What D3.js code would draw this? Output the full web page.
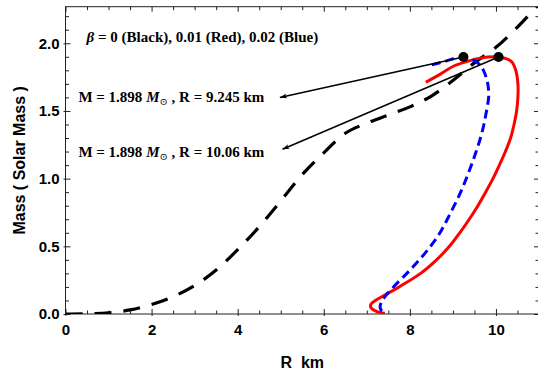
<!DOCTYPE html>
<html>
<head>
<meta charset="utf-8">
<script src="https://cdn.jsdelivr.net/npm/d3@7"></script>
<style>
  body { margin: 0; background: white; }
  svg { display: block; }
</style>
</head>
<body>
<div id="chart"></div>
<script>
// tick values
const xTicks = [0, 2, 4, 6, 8, 10];
const yTicks = [0, 0.5, 1.0, 1.5, 2.0];

// beta = 0 (black dashed)
const blackR = [0, 0.5, 1.0, 1.5, 2.0, 2.5, 3.0, 3.5, 4.0, 4.5, 5.0, 5.5, 6.0, 6.5, 7.0, 7.5, 8.0, 8.5, 9.0, 9.5, 10.0, 10.5, 11.0];
const blackM = [0, 0.001, 0.008, 0.03, 0.07, 0.128, 0.21, 0.325, 0.475, 0.645, 0.835, 1.03, 1.19, 1.335, 1.41, 1.47, 1.53, 1.61, 1.725, 1.855, 1.97, 2.12, 2.29];

// beta = 0.01 (red solid)
const redR = [8.37, 8.7, 9.01, 9.33, 9.63, 10.06, 10.36, 10.46, 10.51, 10.51, 10.48, 10.42, 10.34, 10.22, 10.08, 9.93, 9.76, 9.58, 9.38, 9.16, 8.92, 8.62, 8.25, 7.75, 7.42, 7.2, 7.09, 7.1, 7.22, 7.42];
const redM = [1.712, 1.77, 1.83, 1.865, 1.89, 1.898, 1.865, 1.8, 1.7, 1.6, 1.5, 1.4, 1.3, 1.2, 1.1, 1.0, 0.9, 0.8, 0.7, 0.6, 0.5, 0.4, 0.3, 0.2, 0.14, 0.1, 0.07, 0.045, 0.02, 0.005];

// beta = 0.02 (blue dashed)
const blueR = [8.51, 8.8, 9.01, 9.245, 9.47, 9.63, 9.71, 9.78, 9.82, 9.83, 9.78, 9.72, 9.64, 9.54, 9.43, 9.31, 9.18, 9.03, 8.87, 8.7, 8.48, 8.22, 7.93, 7.62, 7.45, 7.36, 7.31, 7.33, 7.42];
const blueM = [1.84, 1.865, 1.885, 1.898, 1.877, 1.84, 1.8, 1.74, 1.68, 1.6, 1.5, 1.4, 1.3, 1.2, 1.1, 1.0, 0.9, 0.8, 0.7, 0.6, 0.5, 0.4, 0.3, 0.2, 0.14, 0.1, 0.06, 0.03, 0.01];

// maximum-mass points and where their arrows point
const dotR = [9.245, 10.06];
const dotM = [1.898, 1.898];
const arrowTipR = [4.98, 5.04];
const arrowTipM = [1.6, 1.217];
const dotRadius = ["9.245", "10.06"];

const width = 538, height = 371;
const svg = d3.select("#chart").append("svg")
  .attr("width", width)
  .attr("height", height);

const x = d3.scaleLinear().domain([0, 11]).range([65.5, 539]);
const y = d3.scaleLinear().domain([0, 2.27]).range([314, 6.7]);

const defs = svg.append("defs");
defs.append("clipPath").attr("id", "clip")
  .append("rect")
  .attr("x", x(0)).attr("y", y(2.27))
  .attr("width", x(11) - x(0)).attr("height", y(0) - y(2.27));

defs.append("marker")
  .attr("id", "arrow")
  .attr("viewBox", "0 0 10 10")
  .attr("refX", 10).attr("refY", 5)
  .attr("markerWidth", 7).attr("markerHeight", 7)
  .attr("markerUnits", "userSpaceOnUse")
  .attr("orient", "auto")
  .append("path")
  .attr("d", "M0,1.5 L10,5 L0,8.5 L2.5,5 Z")
  .attr("fill", "black");

// minor ticks
const minorX = d3.range(0, 11.01, 0.5).filter(v => !xTicks.includes(v));
const minorY = d3.range(0, 2.27, 0.1).map(v => +v.toFixed(1)).filter(v => !yTicks.includes(v));

function styleAxis(g) {
  g.select(".domain").remove();
  g.selectAll(".tick line").attr("stroke", "#222").attr("stroke-width", 1);
}

const fontAxis = "'Liberation Sans', Arial, sans-serif";

// bottom
svg.append("g").attr("transform", `translate(0,${y(0)})`)
  .call(d3.axisBottom(x).tickValues(xTicks).tickSizeInner(-5).tickPadding(10).tickFormat(d3.format("d")))
  .call(styleAxis)
  .call(g => g.selectAll(".tick line").attr("y1", 2))
  .call(g => g.selectAll(".tick text")
    .style("font-family", fontAxis).style("font-size", "15px").style("font-weight", "bold").attr("fill", "black"));
svg.append("g").attr("transform", `translate(0,${y(0)})`)
  .call(d3.axisBottom(x).tickValues(minorX).tickSize(-3.5).tickFormat(""))
  .call(styleAxis);

// top
svg.append("g").attr("transform", `translate(0,${y(2.27)})`)
  .call(d3.axisTop(x).tickValues(xTicks).tickSize(-5).tickFormat(""))
  .call(styleAxis);
svg.append("g").attr("transform", `translate(0,${y(2.27)})`)
  .call(d3.axisTop(x).tickValues(minorX).tickSize(-3.5).tickFormat(""))
  .call(styleAxis);

// left
svg.append("g").attr("transform", `translate(${x(0)},0)`)
  .call(d3.axisLeft(y).tickValues(yTicks).tickSizeInner(-5).tickPadding(6).tickFormat(d3.format(".1f")))
  .call(styleAxis)
  .call(g => g.selectAll(".tick line").attr("x1", -2))
  .call(g => g.selectAll(".tick text")
    .style("font-family", fontAxis).style("font-size", "15px").style("font-weight", "bold").attr("fill", "black"));
svg.append("g").attr("transform", `translate(${x(0)},0)`)
  .call(d3.axisLeft(y).tickValues(minorY).tickSize(-3.5).tickFormat(""))
  .call(styleAxis);

// right
svg.append("g").attr("transform", `translate(${x(11)},0)`)
  .call(d3.axisRight(y).tickValues(yTicks).tickSize(-5).tickFormat(""))
  .call(styleAxis);
svg.append("g").attr("transform", `translate(${x(11)},0)`)
  .call(d3.axisRight(y).tickValues(minorY).tickSize(-3.5).tickFormat(""))
  .call(styleAxis);

// frame
svg.append("rect")
  .attr("x", x(0)).attr("y", y(2.27))
  .attr("width", x(11) - x(0)).attr("height", y(0) - y(2.27))
  .attr("fill", "none").attr("stroke", "#222").attr("stroke-width", 1);

// curves
const line = d3.line().x(d => x(d[0])).y(d => y(d[1])).curve(d3.curveCatmullRom.alpha(0.5));
const plot = svg.append("g").attr("clip-path", "url(#clip)");

plot.append("path")
  .attr("d", line(d3.zip(blackR, blackM)))
  .attr("fill", "none").attr("stroke", "black").attr("stroke-width", 3.2)
  .attr("stroke-dasharray", "17,12");

plot.append("path")
  .attr("d", line(d3.zip(redR, redM)))
  .attr("fill", "none").attr("stroke", "#ff0000").attr("stroke-width", 3);

plot.append("path")
  .attr("d", line(d3.zip(blueR, blueM)))
  .attr("fill", "none").attr("stroke", "#0000ff").attr("stroke-width", 3)
  .attr("stroke-dasharray", "9,5");

// arrows
svg.selectAll(".arrow")
  .data(d3.range(dotR.length))
  .enter().append("line")
  .attr("class", "arrow")
  .attr("x1", i => x(dotR[i])).attr("y1", i => y(dotM[i]))
  .attr("x2", i => x(arrowTipR[i])).attr("y2", i => y(arrowTipM[i]))
  .attr("stroke", "black").attr("stroke-width", 1.5)
  .attr("marker-end", "url(#arrow)");

// dots
svg.selectAll(".dot")
  .data(d3.range(dotR.length))
  .enter().append("circle")
  .attr("cx", i => x(dotR[i])).attr("cy", i => y(dotM[i]))
  .attr("r", 5).attr("fill", "black");

// annotations
const fontSerif = "'Liberation Serif', 'DejaVu Serif', serif";
const beta = svg.append("text")
  .attr("x", x(0.49)).attr("y", 41.5)
  .style("font-family", fontSerif).style("font-size", "15px").style("font-weight", "bold");
beta.append("tspan").style("font-style", "italic").text("β");
beta.append("tspan").text(" = 0 (Black), 0.01 (Red), 0.02 (Blue)");

[0, 1].forEach(i => {
  const t = svg.append("text")
    .attr("x", x(0.3)).attr("y", [101.5, 156.5][i])
    .style("font-family", fontSerif).style("font-size", "15px").style("font-weight", "bold");
  t.append("tspan").text("M = " + dotM[i].toFixed(3) + " ");
  t.append("tspan").style("font-style", "italic").text("M");
  t.append("tspan").attr("dy", 3).style("font-size", "10px").style("font-weight", "normal").text("⊙");
  t.append("tspan").attr("dy", -3).text(" , R = " + dotRadius[i] + " km");
});

// axis titles
svg.append("text")
  .attr("x", (x(0) + x(11)) / 2).attr("y", 368)
  .attr("text-anchor", "middle")
  .attr("xml:space", "preserve")
  .style("white-space", "pre")
  .style("font-family", fontAxis).style("font-size", "16px").style("font-weight", "bold")
  .text("R  km");

svg.append("text")
  .attr("transform", `translate(25,${(y(0) + y(2.27)) / 2}) rotate(-90)`)
  .attr("text-anchor", "middle")
  .style("font-family", fontAxis).style("font-size", "16px").style("font-weight", "bold")
  .text("Mass ( Solar Mass )");
</script>
</body>
</html>
